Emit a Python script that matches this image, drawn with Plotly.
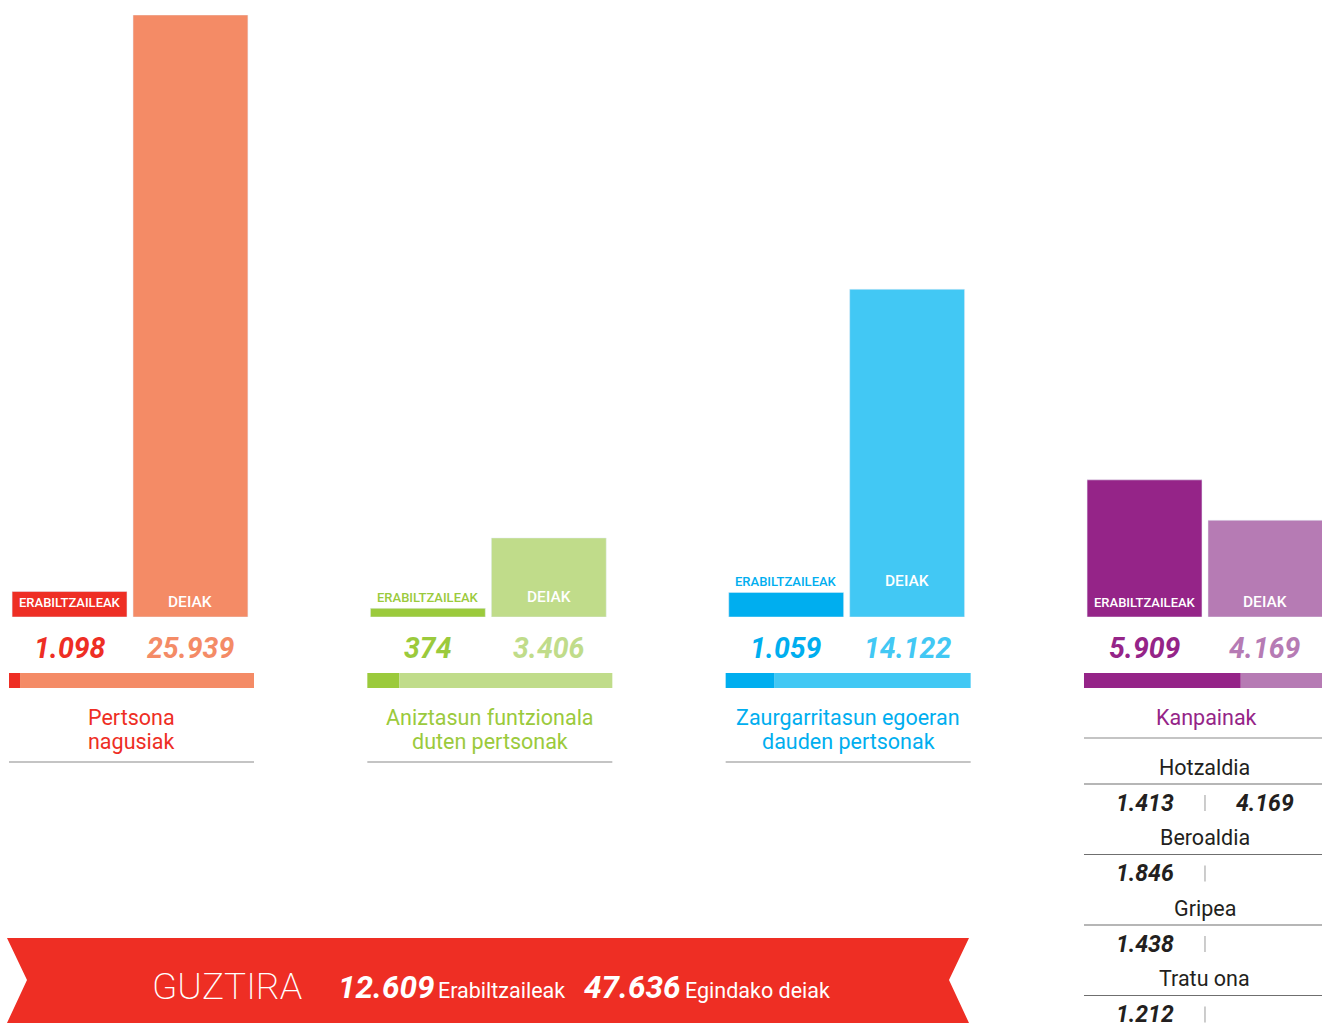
import plotly.graph_objects as go

# datuak
taldeak = ["Pertsona\nnagusiak", "Aniztasun funtzionala\nduten pertsonak",
           "Zaurgarritasun egoeran\ndauden pertsonak", "Kanpainak"]
erabiltzaileak = [1098, 374, 1059, 5909]
deiak = [25939, 3406, 14122, 4169]
# zati iluna banda estuan (irudian neurtua)
banda_erab = [0.045, 0.13, 0.20, 0.64]

kanpainak = ["Hotzaldia", "Beroaldia", "Gripea", "Tratu ona"]
kanp_erab = [1413, 1846, 1438, 1212]
kanp_deiak = [4169, None, None, None]

guztira_erab = 12609
guztira_deiak = 47636

kolore_iluna = ["#ee2e24", "#9bca3c", "#00aeef", "#952488"]
kolore_argia = ["#f48b66", "#c0dc8a", "#42c8f4", "#b67bb4"]
barruan = [True, False, False, True]  # ERABILTZAILEAK etiketa barran ala gainean

W, H = 1322, 1023
unit = 358.33          # px talde bakoitzeko
x0_px = 130
bargap = 0.325
off = (1 - bargap) / 4
testu_iluna = "#231f20"


def py(px):
    return 1 - px / H


def pxx(px):
    return px / W


def fmt(v):
    return f"{v:,}".replace(",", ".")


x = list(range(len(taldeak)))

fig = go.Figure()
fig.add_trace(go.Bar(x=x, y=erabiltzaileak, marker_color=kolore_iluna, name="Erabiltzaileak"))
fig.add_trace(go.Bar(x=x, y=deiak, marker_color=kolore_argia, name="Deiak"))

ann = []
shp = []
for i in x:
    # barren etiketak
    if barruan[i]:
        ly, ys, col = 0, 5, "white"
    else:
        ly, ys, col = erabiltzaileak[i], 1, kolore_iluna[i]
    ann.append(dict(x=i - off, y=ly, yshift=ys, yanchor="bottom", text="ERABILTZAILEAK",
                    font=dict(size=13, color=col, family="Roboto", weight=500)))
    ann.append(dict(x=i + off, y=ly, yshift=ys - 1, yanchor="bottom", text="DEIAK",
                    font=dict(size=15.5, color="white", family="Roboto", weight=500)))
    # zenbakiak
    ann.append(dict(x=i - off, y=py(648), yref="paper", text="<b><i>%s</i></b>" % fmt(erabiltzaileak[i]),
                    font=dict(size=28.5, color=kolore_iluna[i], family="Roboto")))
    ann.append(dict(x=i + off, y=py(648), yref="paper", text="<b><i>%s</i></b>" % fmt(deiak[i]),
                    font=dict(size=28.5, color=kolore_argia[i], family="Roboto")))
    # banda
    left, right = i - 121 / unit, i + 124 / unit
    split = left + banda_erab[i] * (right - left)
    shp.append(dict(type="rect", xref="x", yref="paper", x0=left, x1=split, y0=py(688), y1=py(673),
                    fillcolor=kolore_iluna[i], line_width=0))
    shp.append(dict(type="rect", xref="x", yref="paper", x0=split, x1=right, y0=py(688), y1=py(673),
                    fillcolor=kolore_argia[i], line_width=0))
    # taldearen izena
    lerroak = taldeak[i].split("\n")
    for k, l in enumerate(lerroak):
        ann.append(dict(x=(left + right) / 2, y=py(717 + 24 * k), yref="paper", text=l,
                        font=dict(size=21.5, color=kolore_iluna[i], family="Roboto")))
    ly_px = 717 + 24 * (len(lerroak) - 1) + 21
    shp.append(dict(type="line", xref="x", yref="paper", x0=left, x1=right, y0=py(ly_px), y1=py(ly_px),
                    line=dict(color="#8a8a8a", width=1.2)))

# kanpainen taula
g = len(taldeak) - 1
left, right = g - 121 / unit, g + 124 / unit
for j, izena in enumerate(kanpainak):
    base = 767 + 70.5 * j
    ann.append(dict(x=g, y=py(base), yref="paper", text=izena,
                    font=dict(size=21.5, color=testu_iluna, family="Roboto")))
    shp.append(dict(type="line", xref="x", yref="paper", x0=left, x1=right, y0=py(base + 17), y1=py(base + 17),
                    line=dict(color="#6f6f6f", width=1.2)))
    ann.append(dict(x=g - off, y=py(base + 36), yref="paper", text="<b><i>%s</i></b>" % fmt(kanp_erab[j]),
                    font=dict(size=23, color=testu_iluna, family="Roboto")))
    if kanp_deiak[j] is not None:
        ann.append(dict(x=g + off, y=py(base + 36), yref="paper", text="<b><i>%s</i></b>" % fmt(kanp_deiak[j]),
                        font=dict(size=23, color=testu_iluna, family="Roboto")))
    shp.append(dict(type="line", xref="x", yref="paper", x0=g, x1=g, y0=py(base + 28), y1=py(base + 44),
                    line=dict(color="#9a9a9a", width=1)))

# GUZTIRA zinta
pts = [(7, 938), (969, 938), (949, 980), (969, 1023), (7, 1023), (27, 980)]
path = "M " + " L ".join("%f,%f" % (pxx(px), py(pyy)) for px, pyy in pts) + " Z"
shp.append(dict(type="path", xref="paper", yref="paper", path=path, fillcolor="#ee2e24", line_width=0,
                layer="below"))

ann.append(dict(x=pxx(150), y=py(986), xref="paper", yref="paper", xanchor="left", text="GUZTIRA",
                font=dict(size=37, color="white", family="Roboto", weight=200)))
ann.append(dict(x=pxx(336), y=py(987), xref="paper", yref="paper", xanchor="left",
                text="<b><i>%s</i></b>" % fmt(guztira_erab), font=dict(size=31.5, color="white", family="Roboto")))
ann.append(dict(x=pxx(436), y=py(990), xref="paper", yref="paper", xanchor="left", text="Erabiltzaileak",
                font=dict(size=21.5, color="white", family="Roboto")))
ann.append(dict(x=pxx(582), y=py(987), xref="paper", yref="paper", xanchor="left",
                text="<b><i>%s</i></b>" % fmt(guztira_deiak), font=dict(size=31.5, color="white", family="Roboto")))
ann.append(dict(x=pxx(683), y=py(990), xref="paper", yref="paper", xanchor="left", text="Egindako deiak",
                font=dict(size=21.5, color="white", family="Roboto")))

for a in ann:
    a.setdefault("showarrow", False)
    a.setdefault("xref", "x")
    a.setdefault("yref", "y")
    a.setdefault("yanchor", "middle")
    a.setdefault("xanchor", "center")

fig.update_layout(
    width=W, height=H,
    margin=dict(l=0, r=0, t=0, b=0),
    paper_bgcolor="white", plot_bgcolor="white",
    barmode="group", bargap=bargap, bargroupgap=0.05,
    showlegend=False,
    xaxis=dict(visible=False, range=[-x0_px / unit, (W - x0_px) / unit], domain=[0, 1]),
    yaxis=dict(visible=False, range=[0, max(deiak)], domain=[py(617), py(15)]),
    annotations=ann,
    shapes=shp,
)

# orriaren marjina kendu, irudiak leiho osoa har dezan
fig.write_html("out.html", config={"displayModeBar": False},
               post_script="document.body.style.margin='0';document.body.style.overflow='hidden';")
